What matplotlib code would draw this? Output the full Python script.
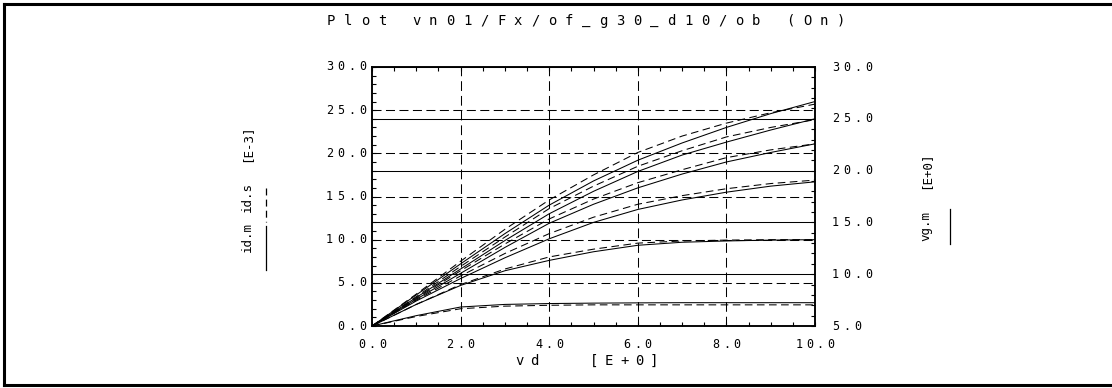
#!/usr/bin/env python3
"""
plot.py

Output characteristics id(vd) for vn01, measured (id.m) vs simulated (id.s),
with the gate voltage steps vg.m on the right axis. HP plotter style.
"""

import numpy as np
import matplotlib
matplotlib.use('Agg')
import matplotlib.pyplot as plt
from matplotlib.lines import Line2D
from matplotlib.ticker import MultipleLocator

W, H = 1112, 388
MONO = 'DejaVu Sans Mono'

# drain voltage sweep [V]
vd = [0, 1, 2, 3, 4, 5, 6, 7, 8, 9, 10]

# gate voltage steps [V] (right axis)
vg_m = [5, 10, 15, 20, 25, 30]

# measured drain current [mA], one row per vg step
id_m = [
    [0, 1.2, 2.2, 2.5, 2.6, 2.65, 2.68, 2.7, 2.7, 2.7, 2.7],
    [0, 2.5, 4.7, 6.4, 7.6, 8.6, 9.35, 9.7, 9.85, 9.95, 10.0],
    [0, 2.9, 5.5, 7.9, 10.1, 12.0, 13.5, 14.6, 15.5, 16.2, 16.7],
    [0, 3.1, 6.1, 9.1, 11.9, 14.1, 16.0, 17.6, 19.0, 20.1, 21.1],
    [0, 3.3, 6.6, 9.9, 13.0, 15.6, 17.9, 19.8, 21.3, 22.7, 24.0],
    [0, 3.6, 7.2, 10.7, 14.0, 16.8, 19.2, 21.2, 23.0, 24.6, 26.0],
]

# simulated drain current [mA]
id_s = [
    [0, 1.1, 2.0, 2.3, 2.4, 2.45, 2.45, 2.45, 2.45, 2.45, 2.45],
    [0, 2.5, 4.8, 6.6, 8.0, 8.9, 9.6, 9.85, 9.95, 10.0, 10.0],
    [0, 3.0, 5.8, 8.4, 10.7, 12.6, 14.1, 15.1, 15.9, 16.5, 16.9],
    [0, 3.2, 6.4, 9.5, 12.4, 14.7, 16.6, 18.1, 19.5, 20.4, 21.1],
    [0, 3.4, 6.9, 10.3, 13.6, 16.2, 18.5, 20.3, 21.9, 23.0, 23.9],
    [0, 3.7, 7.5, 11.2, 14.6, 17.5, 20.1, 22.0, 23.5, 24.7, 25.7],
]

title = 'Plot vn01/Fx/of_g30_d10/ob (On)'


def px(x, y):
    """pixel coords (top-left origin) -> figure fraction"""
    return x / W, 1 - y / H


def spaced(fig, x, y, s, pitch, size, ha='center'):
    """Draw text with a fixed character pitch (plotter look)."""
    n = len(s)
    w = 0.6 * size * 100 / 72
    span = (n - 1) * pitch + w
    if ha == 'center':
        off0 = -(n - 1) / 2 * pitch
    elif ha == 'right':
        off0 = -span + w / 2
    else:
        off0 = w / 2
    for i, ch in enumerate(s):
        if ch == ' ':
            continue
        fig.text(*px(x + off0 + i * pitch, y), ch, ha='center', va='center',
                 fontsize=size, family=MONO)


def vlabel(fig, x, y, s, size=9):
    fig.text(*px(x, y), s, ha='center', va='center', fontsize=size,
             family=MONO, rotation=90)


plt.rcParams['lines.scale_dashes'] = False

fig = plt.figure(figsize=(W / 100, H / 100), dpi=100)
ax = fig.add_axes([372 / W, 1 - 326 / H, (815 - 372) / W, (326 - 67) / H])
ax2 = ax.twinx()

ax.set_xlim(0, 10)
ax.set_ylim(0, 30)
ax2.set_ylim(5, 30)

# grid
for v in [2, 4, 6, 8]:
    ax.axvline(v, color='black', lw=0.75, dashes=(7, 3.6))
for v in [5, 10, 15, 20, 25]:
    ax.axhline(v, color='black', lw=0.75, dashes=(6.5, 3.2))

for v in vg_m:
    ax2.plot(vd, np.full(len(vd), v), color='black', lw=0.75)

for ym, ys in zip(id_m, id_s):
    ax.plot(vd, ym, color='black', lw=0.75)
    ax.plot(vd, ys, color='black', lw=0.75, dashes=(5.5, 3.2))

# ticks, all inward, labels drawn by hand
ax.xaxis.set_major_locator(MultipleLocator(2))
ax.xaxis.set_minor_locator(MultipleLocator(0.5))
ax.yaxis.set_major_locator(MultipleLocator(5))
ax.yaxis.set_minor_locator(MultipleLocator(1))
ax2.yaxis.set_major_locator(MultipleLocator(5))
ax2.yaxis.set_minor_locator(MultipleLocator(1))
ax.tick_params(which='both', direction='in', length=3, width=0.8,
               top=True, right=False, labelbottom=False, labelleft=False)
ax2.tick_params(which='both', direction='in', length=3, width=0.8,
                labelright=False)
for a in (ax, ax2):
    for s in a.spines.values():
        s.set_linewidth(1.1)

fig.canvas.draw()

# tick labels
for v in range(0, 11, 2):
    xd, _ = ax.transData.transform((v, 0))
    spaced(fig, xd, 345, f'{v:.1f}', 10.5, 8.5)
for v in range(0, 31, 5):
    _, yd = ax.transData.transform((0, v))
    spaced(fig, 366, H - yd, f'{v:.1f}', 11, 8.5, ha='right')
for v in range(5, 31, 5):
    _, yd = ax2.transData.transform((0, v))
    spaced(fig, 832, H - yd, f'{v:.1f}', 11, 8.5, ha='left')

# title and axis labels
spaced(fig, 327, 21, title, 17, 10, ha='left')
spaced(fig, 515, 361, 'vd   [E+0]', 15, 10, ha='left')
vlabel(fig, 247, 237, 'id.m')
vlabel(fig, 247, 197, 'id.s')
vlabel(fig, 247, 143, '[E-3]')
vlabel(fig, 926, 226, 'vg.m')
vlabel(fig, 926, 170, '[E+0]')

# line-style keys next to the axis labels
fig.add_artist(Line2D([266 / W] * 2, [1 - 226 / H, 1 - 270 / H], color='black', lw=0.9))
fig.add_artist(Line2D([266 / W] * 2, [1 - 188 / H, 1 - 222 / H], color='black', lw=0.9,
                      dashes=(5, 3)))
fig.add_artist(Line2D([950 / W] * 2, [1 - 209 / H, 1 - 244 / H], color='black', lw=0.9))

# page frame
fx0, fy0, fy1 = 4 / W, 1 - 4 / H, 1 - 385 / H
fig.add_artist(Line2D([fx0, 1.01], [fy0, fy0], color='black', lw=2.2))
fig.add_artist(Line2D([fx0, fx0], [fy0, fy1], color='black', lw=2.2))
fig.add_artist(Line2D([fx0, 1.01], [fy1, fy1], color='black', lw=2.2))

fig.savefig('out.png', dpi=100)
